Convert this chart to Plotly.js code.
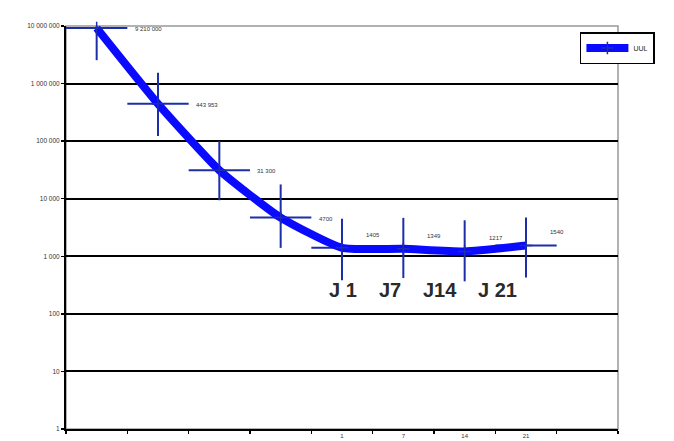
<!DOCTYPE html>
<html>
<head>
<meta charset="utf-8">
<script src="https://cdn.plot.ly/plotly-3.0.1.min.js"></script>
<style>html,body{margin:0;padding:0;background:#fff;}#chart{width:674px;height:441px;}</style>
</head>
<body>
<div id="chart"></div>
<script>
const categories = ['', '', '', '', '1', '7', '14', '21'];
const seriesName = 'UUL';
const values = [9210000, 443953, 31300, 4700, 1405, 1349, 1217, 1540];
const errPlus = [11400000, 1100000, 69000, 13000, 3100, 3300, 3000, 3200];
const errMinus = [6660000, 321000, 21900, 3300, 1020, 930, 850, 1110];
const valueLabels = ['9 210 000', '443 953', '31 300', '4700', '1405', '1349', '1217', '1540'];
const dayLabels = ['J 1', 'J7', 'J14', 'J 21'];
const yTickVals = [1, 10, 100, 1000, 10000, 100000, 1000000, 10000000];
const yTickText = ['1', '10', '100', '1 000', '10 000', '100 000', '1 000 000', '10 000 000'];

const nSlots = categories.length + 1;
const xIdx = categories.map((c, i) => i);
const boundaries = [];
for (let i = 0; i <= nSlots; i++) boundaries.push(i - 0.5);

const trace = {
  type: 'scatter',
  mode: 'lines+markers',
  name: seriesName,
  x: xIdx,
  y: values,
  cliponaxis: false,
  line: {color: '#0a0aff', width: 8, shape: 'spline', smoothing: 0.5},
  marker: {symbol: 'cross-thin', size: 9, color: '#1c2fa8', line: {color: '#1c2fa8', width: 1.5}},
  error_y: {type: 'data', symmetric: false, array: errPlus, arrayminus: errMinus, color: '#1c2fa8', thickness: 2, width: 0},
  error_x: {type: 'constant', value: 0.5, color: '#1c2fa8', thickness: 2, width: 0}
};

const annotations = [];
values.forEach((v, i) => {
  const late = i >= 4;
  annotations.push({
    x: xIdx[i], y: Math.log10(v), xref: 'x', yref: 'y',
    text: valueLabels[i], showarrow: false,
    xanchor: 'left', yanchor: 'middle',
    xshift: late ? 22 : 36, yshift: late ? 13 : -1,
    font: {family: 'Liberation Sans, Arial, sans-serif', size: 6, color: '#333'}
  });
});
const dayX = [4.01, 4.79, 5.59, 6.54];
dayLabels.forEach((t, i) => {
  annotations.push({
    x: dayX[i], y: 0.345, xref: 'x', yref: 'paper',
    yanchor: 'middle', xanchor: 'center',
    text: '<b>' + t + '</b>', showarrow: false,
    font: {family: 'Liberation Sans, Arial, sans-serif', size: 20, color: '#2a2a2a'}
  });
});

const layout = {
  width: 674, height: 441,
  margin: {l: 66, r: 56, t: 26, b: 12},
  paper_bgcolor: '#fff', plot_bgcolor: '#fff',
  showlegend: true,
  legend: {x: 0.931, y: 0.985, xanchor: 'left', yanchor: 'top', bgcolor: '#fff',
    bordercolor: '#000', borderwidth: 1.5, itemwidth: 42,
    font: {family: 'Liberation Sans, Arial, sans-serif', size: 7, color: '#222'}},
  xaxis: {
    range: [-0.5, nSlots - 0.5], tickmode: 'array', tickvals: xIdx, ticktext: categories,
    showgrid: false, zeroline: false, showline: true, linecolor: '#000', linewidth: 2,
    ticks: '', ticklen: 0,
    tickfont: {family: 'Liberation Sans, Arial, sans-serif', size: 6, color: '#333'},
    minor: {tickmode: 'array', tickvals: boundaries, ticks: 'outside', ticklen: 3, tickwidth: 1.5, tickcolor: '#000', showgrid: false}
  },
  yaxis: {
    type: 'log', range: [0, 7], tickmode: 'array', tickvals: yTickVals, ticktext: yTickText,
    showgrid: true, gridcolor: '#000', gridwidth: 2, zeroline: false,
    showline: true, linecolor: '#000', linewidth: 2, ticks: 'outside', ticklen: 3, tickwidth: 1.5, tickcolor: '#000',
    tickfont: {family: 'Liberation Sans, Arial, sans-serif', size: 6.5, color: '#333'}
  },
  shapes: [{type: 'rect', xref: 'paper', yref: 'paper', x0: 0, x1: 1, y0: 0, y1: 1,
    line: {color: '#999', width: 1.5}, layer: 'below'}],
  annotations: annotations
};

Plotly.newPlot('chart', [trace], layout, {displayModeBar: false, staticPlot: true});
</script>
</body>
</html>
